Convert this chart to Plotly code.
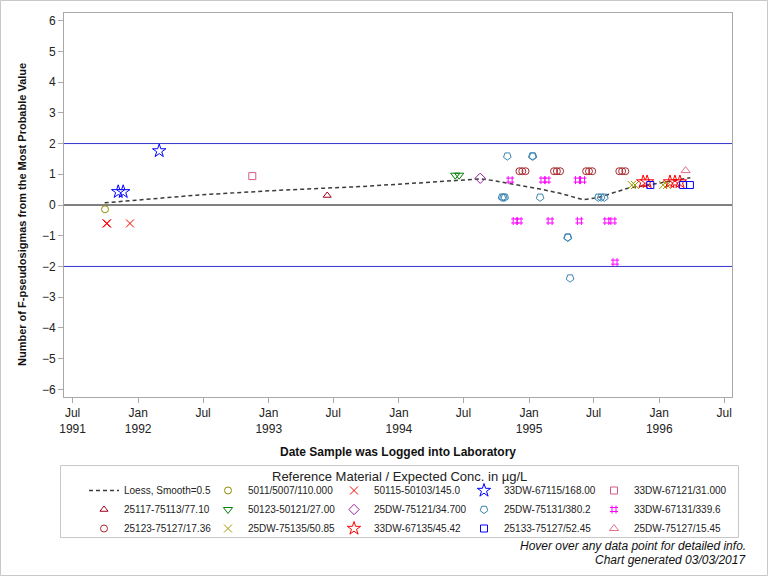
import plotly.graph_objects as go

# ---------------- data ----------------
x_range = ["1991-06-07", "1996-07-23"]
y_range = [-6.25, 6.25]
y_ticks = [-6, -5, -4, -3, -2, -1, 0, 1, 2, 3, 4, 5, 6]
x_tickvals = ["1991-07-01", "1992-01-01", "1992-07-01", "1993-01-01", "1993-07-01",
              "1994-01-01", "1994-07-01", "1995-01-01", "1995-07-01", "1996-01-01",
              "1996-07-01"]
x_ticktext = ["Jul<br>1991", "Jan<br>1992", "Jul", "Jan<br>1993", "Jul", "Jan<br>1994",
              "Jul", "Jan<br>1995", "Jul", "Jan<br>1996", "Jul"]

limit_levels = [2, -2]
zero_level = [0]

loess_dates = ["1991-09-29", "1992-06-22", "1993-02-01", "1993-09-14", "1994-03-01",
               "1994-06-07", "1994-08-17", "1994-09-14", "1994-12-07", "1995-02-01",
               "1995-03-29", "1995-06-02", "1995-07-14", "1995-10-03", "1995-12-26",
               "1996-03-28"]
loess_vals = [0.07, 0.33, 0.48, 0.60, 0.72, 0.80, 0.85, 0.81, 0.65, 0.52, 0.38, 0.17,
              0.24, 0.54, 0.70, 0.89]

s5011_dates = ["1991-09-30"]
s5011_vals = [-0.14]

s50115_dates = ["1991-10-04", "1991-10-06", "1991-12-09"]
s50115_vals = [-0.6, -0.6, -0.6]

s67115_dates = ["1991-11-06", "1991-11-20", "1992-02-29"]
s67115_vals = [0.43, 0.43, 1.76]

s67121_dates = ["1992-11-16"]
s67121_vals = [0.94]

s75113_dates = ["1993-06-14"]
s75113_vals = [0.31]

s50121_dates = ["1994-06-08", "1994-06-19"]
s50121_vals = [0.97, 0.97]

s75121_dates = ["1994-08-17"]
s75121_vals = [0.87]

s75131_dates = ["1994-10-17", "1994-10-21", "1994-10-25", "1994-11-01", "1995-01-10",
                "1995-01-12", "1995-02-01", "1995-04-19", "1995-04-20", "1995-04-26",
                "1995-07-14", "1995-07-22", "1995-07-31"]
s75131_vals = [0.25, 0.25, 0.25, 1.59, 1.59, 1.59, 0.25, -1.05, -1.05, -2.38,
               0.25, 0.25, 0.25]

s67131_dates = ["1994-11-09", "1995-02-09", "1995-02-20", "1995-05-17", "1995-05-31",
                "1994-11-23", "1994-12-04", "1995-03-01", "1995-05-22", "1995-08-07",
                "1995-08-24", "1995-08-30"]
s67131_vals = [0.81, 0.81, 0.81, 0.81, 0.81, -0.52, -0.52, -0.52, -0.52, -0.52,
               -0.52, -1.86]

s75127a_dates = ["1994-12-05", "1994-12-13", "1994-12-22", "1995-03-12", "1995-03-20",
                 "1995-03-29", "1995-06-10", "1995-06-18", "1995-06-27", "1995-09-11",
                 "1995-09-19", "1995-09-28"]
s75127a_vals = [1.1] * 12

s75135_dates = ["1995-10-16", "1995-10-25", "1996-01-12", "1996-01-23"]
s75135_vals = [0.65, 0.65, 0.65, 0.65]

s67135_dates = ["1995-11-17", "1995-11-28", "1996-01-31", "1996-02-14", "1996-02-28"]
s67135_vals = [0.75, 0.75, 0.75, 0.75, 0.75]

s75127b_dates = ["1995-12-07", "1996-03-08", "1996-03-27"]
s75127b_vals = [0.65, 0.65, 0.65]

s75127c_dates = ["1996-03-15"]
s75127c_vals = [1.12]

# name, dates, values, symbol, colour, rotation, size, legend column
series = [
    ("5011/5007/110.000", s5011_dates, s5011_vals, "circle-open", "#8E8E00", 0, 7, 2),
    ("50115-50103/145.0", s50115_dates, s50115_vals, "x-thin-open", "#FF0000", 0, 8, 3),
    ("33DW-67115/168.00", s67115_dates, s67115_vals, "star-open", "#0000FF", 0, 10, 4),
    ("33DW-67121/31.000", s67121_dates, s67121_vals, "square-open", "#D45A7E", 0, 7, 5),
    ("25117-75113/77.10", s75113_dates, s75113_vals, "triangle-up-open", "#A0001E", 0, 7, 1),
    ("50123-50121/27.00", s50121_dates, s50121_vals, "triangle-down-open", "#008000", 0, 8, 2),
    ("25DW-75121/34.700", s75121_dates, s75121_vals, "diamond-open", "#9B1F9B", 0, 8, 3),
    ("25DW-75131/380.2", s75131_dates, s75131_vals, "pentagon-open", "#3A84B0", 180, 8, 4),
    ("33DW-67131/339.6", s67131_dates, s67131_vals, "hash-open", "#FF00FF", 0, 8, 5),
    ("25123-75127/17.36", s75127a_dates, s75127a_vals, "circle-open", "#A8282C", 0, 7, 1),
    ("25DW-75135/50.85", s75135_dates, s75135_vals, "x-thin-open", "#9C9C00", 0, 8, 2),
    ("33DW-67135/45.42", s67135_dates, s67135_vals, "star-open", "#FF0000", 0, 10, 3),
    ("25133-75127/52.45", s75127b_dates, s75127b_vals, "square-open", "#0000FF", 0, 7, 4),
    ("25DW-75127/15.45", s75127c_dates, s75127c_vals, "triangle-up-open", "#E0708C", 0, 8, 5),
]

# ---------------- layout helpers ----------------
W, H = 768, 576
ML, MR, MT, MB = 64, 36, 13, 179
PW, PH = W - ML - MR, H - MT - MB


def px_x(px):
    return (px - ML) / PW


def px_y(py):
    return (H - MB - py) / PH


FONT = "Liberation Sans, Arial, sans-serif"
AXIS_GRAY = "#A8A8A8"
TXT = "#222222"
legend_ids = {1: "legend", 2: "legend2", 3: "legend3", 4: "legend4", 5: "legend5"}
legend_text_px = {1: 124, 2: 248, 3: 374, 4: 504, 5: 634}

fig = go.Figure()

fig.add_trace(go.Scatter(
    x=loess_dates, y=loess_vals, mode="lines", name="Loess, Smooth=0.5",
    line=dict(color="#3C3C3C", width=1.5, dash="4px,3px"),
    hoverinfo="skip", legend="legend",
))

for name, xs, ys, sym, col, ang, sz, lcol in series:
    fig.add_trace(go.Scatter(
        x=xs, y=ys, mode="markers", name=name, legend=legend_ids[lcol],
        marker=dict(symbol=sym, size=sz, color=col, angle=ang,
                    line=dict(color=col, width=1)),
        hovertemplate=name + "<br>%{x|%b %d, %Y}<br>%{y:.2f}<extra></extra>",
    ))

shapes = []
for lv in limit_levels:
    shapes.append(dict(type="line", xref="paper", yref="y", x0=0, x1=1, y0=lv, y1=lv,
                       line=dict(color="#3333CC", width=1), layer="below"))
for lv in zero_level:
    shapes.append(dict(type="line", xref="paper", yref="y", x0=0, x1=1, y0=lv, y1=lv,
                       line=dict(color="#000000", width=1), layer="below"))
# legend frame
shapes.append(dict(type="rect", xref="paper", yref="paper",
                   x0=px_x(60.5), x1=px_x(738.5), y0=px_y(537.5), y1=px_y(465.5),
                   line=dict(color="#C8C8C8", width=1)))
# outer figure frame
shapes.append(dict(type="rect", xref="paper", yref="paper",
                   x0=px_x(0.5), x1=px_x(767.5), y0=px_y(575.5), y1=px_y(0.5),
                   line=dict(color="#C8C8C8", width=1)))

legend_layouts = {}
for k, lid in legend_ids.items():
    legend_layouts[lid] = dict(
        orientation="v", x=px_x(legend_text_px[k] - 40), y=px_y(476),
        xanchor="left", yanchor="top", itemwidth=30,
        bgcolor="rgba(0,0,0,0)", borderwidth=0, tracegroupgap=0,
        font=dict(family=FONT, size=10, color=TXT), traceorder="normal",
    )

fig.update_layout(
    width=W, height=H,
    margin=dict(l=ML, r=MR, t=MT, b=MB, autoexpand=False),
    paper_bgcolor="white", plot_bgcolor="white",
    font=dict(family=FONT, size=12, color=TXT),
    showlegend=True,
    xaxis=dict(
        type="date", range=x_range, tickvals=x_tickvals, ticktext=x_ticktext,
        showline=True, linecolor=AXIS_GRAY, linewidth=1, mirror=True,
        ticks="outside", ticklen=5, tickcolor=AXIS_GRAY, showgrid=False, zeroline=False,
        tickfont=dict(family=FONT, size=12, color=TXT),
        title=dict(text="<b>Date Sample was Logged into Laboratory</b>", standoff=12,
                   font=dict(family=FONT, size=12, color="#111111")),
    ),
    yaxis=dict(
        range=y_range, tickvals=y_ticks, showline=True, linecolor=AXIS_GRAY, linewidth=1,
        mirror=True, ticks="outside", ticklen=5, tickcolor=AXIS_GRAY, showgrid=False,
        zeroline=False, tickfont=dict(family=FONT, size=12, color=TXT),
    ),
    yaxis2=dict(
        range=y_range, tickvals=y_ticks, overlaying="y", side="right", anchor="x",
        showline=False, ticks="outside", ticklen=5, tickcolor=AXIS_GRAY, showgrid=False,
        zeroline=False, tickfont=dict(family=FONT, size=12, color=TXT),
    ),
    shapes=shapes,
    annotations=[
        dict(xref="paper", yref="paper", x=px_x(22), y=px_y(215), xanchor="center",
             yanchor="middle", showarrow=False, textangle=-90,
             text="<b>Number of F-pseudosigmas from the Most Probable Value</b>",
             font=dict(family=FONT, size=11, color="#111111")),
        dict(xref="paper", yref="paper", x=px_x(399), y=px_y(476), xanchor="center",
             yanchor="middle", showarrow=False,
             text="Reference Material / Expected Conc. in µg/L",
             font=dict(family=FONT, size=13, color=TXT)),
        dict(xref="paper", yref="paper", x=px_x(748), y=px_y(546), xanchor="right",
             yanchor="middle", showarrow=False,
             text="Hover over any data point for detailed info.",
             font=dict(family=FONT, size=12, style="italic", color="#111111")),
        dict(xref="paper", yref="paper", x=px_x(748), y=px_y(560), xanchor="right",
             yanchor="middle", showarrow=False, text="Chart generated 03/03/2017",
             font=dict(family=FONT, size=12, style="italic", color="#111111")),
    ],
    **legend_layouts,
)

fig.write_html("out.html")
